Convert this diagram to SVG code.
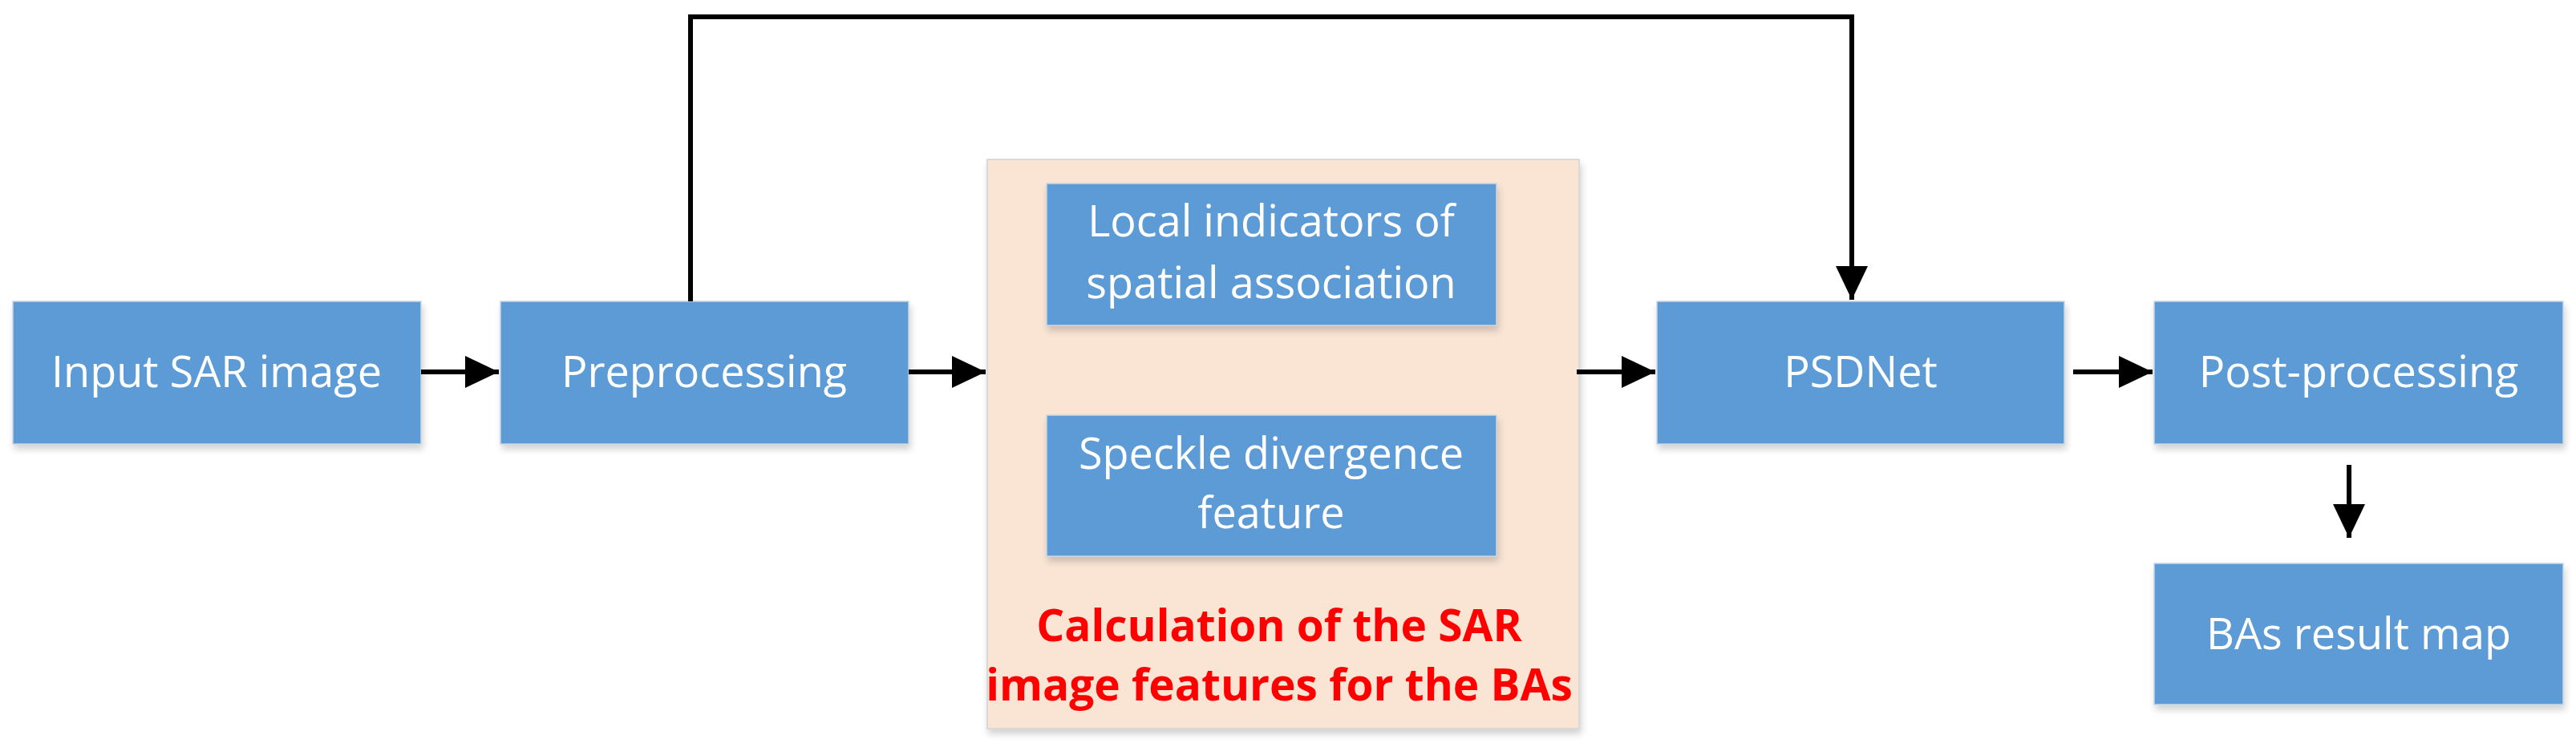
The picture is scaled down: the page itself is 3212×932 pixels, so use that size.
<svg xmlns="http://www.w3.org/2000/svg" width="3212" height="932" viewBox="0 0 3212 932">
<style>
.box{fill:#5b9bd5;stroke:#c8d6e4;stroke-width:1.5;filter:url(#sh)}
.t{font-family:"Open Sans","Liberation Sans",sans-serif;font-size:54px;fill:#ffffff;text-anchor:middle}
.r{font-family:"Open Sans","Liberation Sans",sans-serif;font-size:55px;font-weight:bold;fill:#ff0000;text-anchor:middle}
.c{fill:none;stroke:#000000;stroke-width:6}
</style>
<defs>
<filter id="sh" x="-5%" y="-10%" width="110%" height="130%">
<feGaussianBlur in="SourceAlpha" stdDeviation="4"/>
<feOffset dx="2" dy="6" result="b"/>
<feComponentTransfer><feFuncA type="linear" slope="0.18"/></feComponentTransfer>
<feMerge><feMergeNode/><feMergeNode in="SourceGraphic"/></feMerge>
</filter>
<marker id="ah" markerUnits="userSpaceOnUse" markerWidth="42" markerHeight="40" refX="42" refY="20" orient="auto">
<path d="M0,0 L42,20 L0,40 z" fill="#000000"/>
</marker>
</defs>
<rect width="3212" height="932" fill="#ffffff"/>
<g id="container">
<rect x="1231" y="199" width="738" height="710" fill="#fae4d4" stroke="#d9d9d9" stroke-width="2" filter="url(#sh)"/>
<text class="r" x="1595" y="800">Calculation of the SAR</text>
<text class="r" x="1595" y="874">image features for the BAs</text>
</g>
<g id="input"><rect class="box" x="16" y="376" width="509" height="178"/><text class="t" x="270" y="483">Input SAR image</text></g>
<g id="preprocessing"><rect class="box" x="624" y="376" width="509" height="178"/><text class="t" x="878" y="483">Preprocessing</text></g>
<g id="lisa"><rect class="box" x="1305" y="229" width="561" height="177"/><text class="t" x="1585" y="295">Local indicators of</text><text class="t" x="1585" y="372">spatial association</text></g>
<g id="speckle"><rect class="box" x="1305" y="518" width="561" height="176"/><text class="t" x="1585" y="585">Speckle divergence</text><text class="t" x="1585" y="659">feature</text></g>
<g id="psdnet"><rect class="box" x="2066" y="376" width="508" height="178"/><text class="t" x="2320" y="483">PSDNet</text></g>
<g id="post"><rect class="box" x="2686" y="376" width="510" height="178"/><text class="t" x="2941" y="483">Post-processing</text></g>
<g id="result"><rect class="box" x="2686" y="703" width="510" height="176"/><text class="t" x="2941" y="810">BAs result map</text></g>
<g id="connectors">
<path class="c" d="M525,464 H622" marker-end="url(#ah)"/>
<path class="c" d="M1133,464 H1229" marker-end="url(#ah)"/>
<path class="c" d="M1966,464 H2064" marker-end="url(#ah)"/>
<path class="c" d="M2585,464 H2684" marker-end="url(#ah)"/>
<path class="c" d="M2929,580 V671" marker-end="url(#ah)"/>
<path class="c" d="M861,376 V21 H2309 V374" marker-end="url(#ah)"/>
</g>
</svg>
